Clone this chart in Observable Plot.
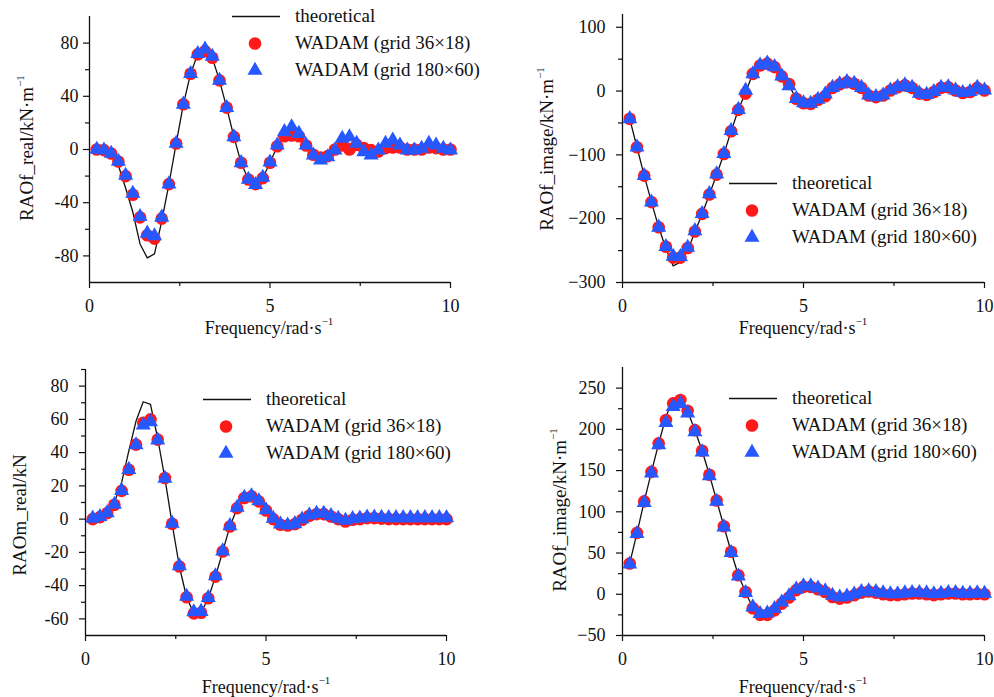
<!DOCTYPE html>
<html>
<head>
<meta charset="utf-8">
<script src="https://cdn.jsdelivr.net/npm/d3@7"></script>
<script src="https://cdn.jsdelivr.net/npm/@observablehq/plot@0.6"></script>
<style>
  body { margin: 0; background: #fff; }
  #fig { position: relative; width: 994px; height: 697px; overflow: hidden; font-family: "Liberation Serif", "Times New Roman", serif; color: #111; }
  .ylab, .xlab { position: absolute; font-size: 18px; white-space: nowrap; }
  .ylab { transform: translate(-50%, -50%) rotate(-90deg); font-size: 19px; }
  .xlab { transform: translate(-50%, -50%); }
  sup { font-size: 11px; position: relative; top: -2px; vertical-align: super; line-height: 0; }
  .legend { position: absolute; font-size: 19px; }
  .legend .row { display: flex; align-items: center; height: 27px; }
  .legend svg { flex: none; }
</style>
</head>
<body>
<div id="fig"></div>
<script>
// Wave frequencies (rad/s) at which the responses are evaluated
const freq = [0.2, 0.4, 0.6, 0.8, 1.0, 1.2, 1.4, 1.6, 1.8, 2.0,
              2.2, 2.4, 2.6, 2.8, 3.0, 3.2, 3.4, 3.6, 3.8, 4.0,
              4.2, 4.4, 4.6, 4.8, 5.0, 5.2, 5.4, 5.6, 5.8, 6.0,
              6.2, 6.4, 6.6, 6.8, 7.0, 7.2, 7.4, 7.6, 7.8, 8.0,
              8.2, 8.4, 8.6, 8.8, 9.0, 9.2, 9.4, 9.6, 9.8, 10.0];

// RAOf real part (kN/m)
const fReal_theory = [0, -0.5, -3, -12, -29, -47, -71, -81.5, -78.5, -54,
                      -26, 4.5, 34, 57, 72, 75, 69, 52, 31.5, 9.5,
                      -10, -22.5, -26, -21.5, -10, 2.5, 11, 12, 10, 2.5,
                      -4.5, -6.5, -5.5, -0.5, 4, 4, 2.5, 0, -1.5, -1,
                      1.5, 3, 2, 0, -0.5, 0.5, 2, 1.5, 0.5, 0];
const fReal_36x18 = [0, -0.5, -3, -9, -20, -34, -51, -64.5, -67, -52,
                     -26, 4.5, 34, 57, 71.5, 74, 69, 52, 31.5, 9.5,
                     -10, -22.5, -26, -21.5, -10, 2.5, 10, 10.5, 10, 3,
                     -4, -6, -5, 0, 3, 0, 3.5, 1, -0.5, -1.5,
                     1, 1.5, 1.5, 0, 0, 0, 1.5, 1, 0, 0];
const fReal_180x60 = [0, -0.5, -3, -9, -19.5, -33, -50.5, -63, -65, -51,
                      -26, 4.5, 34, 57, 72, 75.5, 70, 52, 31.5, 9.5,
                      -10, -22.5, -26.5, -21, -9.5, 3.2, 13.3, 17, 12, 3.2,
                      -4.3, -8, -5.6, -0.5, 8.3, 9.5, 4.5, -1.8, -4.3, -0.5,
                      4.5, 7, 3.2, -0.5, -0.5, 0.8, 4.5, 3.2, 0.8, -0.5];

// RAOf imaginary part (kN/m), upper panel
const fImag_theory = [-43.5, -88, -132.5, -174, -213.5, -247, -274, -268, -250, -221,
                      -192.5, -162, -131, -98.5, -63, -29.5, -2, 27, 40, 43,
                      37.5, 23, 9, -12, -19, -20, -13.5, -7, 5, 10.5,
                      14, 11.5, 5, -7, -9.5, -7, 1, 6, 9, 5,
                      -4, -6, -1.5, 5, 6, 1, -3, -1.5, 5, 1];
const fImag_36x18 = [-43.5, -88, -132.5, -174, -213.5, -244, -261, -261, -246, -220,
                     -192.5, -162, -131, -98.5, -63, -29.5, -4, 27, 40, 43,
                     37.5, 23, 11, -12, -19, -20, -13.5, -8, 5, 10.5,
                     14, 11.5, 5, -7, -9.5, -7, 1, 6, 9, 5,
                     -4, -6, -1.5, 5, 6, 1, -3, -1.5, 5, 1];
const fImag_180x60 = [-43.5, -88, -132.5, -174, -213.5, -244, -259, -259.5, -245, -219,
                      -192, -161, -130, -98, -62, -29, 1, 27, 40.5, 43.5,
                      38, 23.5, 8, -12, -18.5, -19.5, -13, -5, 5.5, 11,
                      14.5, 12, 5.5, -6.5, -9, -6.5, 1.5, 6.5, 9.5, 5.5,
                      -3.5, -5.5, -1, 5.5, 6.5, 1.5, -2.5, -1, 5.5, 1.5];

// RAOm real part (kN)
const mReal_theory = [0, 1.5, 4, 10, 22, 41, 59, 70.6, 69, 48.5,
                      24.5, -2.8, -28.5, -47, -56.7, -56.3, -47.6, -34.6, -19.5, -4.4,
                      6.6, 12.7, 13.7, 10.7, 5.2, 0, -3.4, -3.8, -3, -0.4,
                      2, 3, 3, 1.6, 0, -1, -0.4, 0, 0.8, 1,
                      0.5, 0.5, 0.3, 0.3, 0.2, 0.2, 0.2, 0.1, 0.1, 0];
const mReal_36x18 = [0, 1.2, 3.6, 8.6, 17, 29.7, 44.8, 58, 60, 47.8,
                     24.7, -2.8, -28.5, -47, -56.7, -56.3, -47.6, -34.6, -19.5, -4.4,
                     6.6, 12.7, 13.7, 10.7, 5.2, 0, -3.4, -3.8, -3, -0.4,
                     2, 3, 3, 1.6, 0, -1.4, -0.4, 0, 0.6, 0.6,
                     0.3, 0, 0, 0, 0, 0, 0, 0, 0, 0];
const mReal_180x60 = [0.5, 1.5, 3.8, 8.8, 17.2, 29.8, 44.6, 56.5, 58.5, 47.5,
                      24.5, -2.5, -28.2, -46.5, -55.8, -55.6, -47.2, -34.2, -19.2, -4,
                      7, 13, 14, 11, 5.5, 0.4, -3, -3.6, -2.8, 0,
                      2.4, 3.4, 3.4, 2, 0.4, -0.8, 0.2, 0.6, 1.2, 1.2,
                      1, 0.8, 0.8, 0.8, 0.8, 0.8, 0.8, 0.8, 0.8, 0.8];

// RAOf imaginary part (kN/m), lower panel
const fImag2_theory = [37.4, 74.4, 112.6, 148.4, 183, 215, 238, 234, 222, 199,
                       174, 145, 113.8, 82.5, 51.6, 23, 2.8, -17, -25, -25,
                       -19.5, -11.4, -4, 5, 9, 9, 6, 2.8, -3.3, -5.3,
                       -4, -1.2, 2, 3.3, 2, 0, -1, -1, 0, 1,
                       1, 0, -1, 0, 1, 1, 0, 0, 0.5, 0];
const fImag2_36x18 = [37.4, 74.4, 112.6, 148.4, 183, 211.4, 231.5, 235.5, 222.4, 199,
                      174, 145, 113.8, 82.5, 51.6, 23, 2.8, -17, -25, -25,
                      -19.5, -11.4, -4, 5, 9, 9, 6, 2.8, -3.3, -5.3,
                      -4, -1.2, 2, 3.3, 2, 0, -1, -1, 0, 1,
                      1, 0, -1, 0, 1, 1, 0, 0, 0.5, 0];
const fImag2_180x60 = [36.5, 73.5, 111, 147, 181, 208, 227.5, 231, 219.5, 197,
                       172.5, 143.5, 112.5, 81.5, 50.5, 22, 2, -15.5, -23.5, -23,
                       -17.5, -9.5, -2, 6, 10, 10, 7.5, 4, -1.5, -3.5,
                       -2.5, 0, 3, 4, 3, 1.5, 0.5, 0.5, 1.5, 2,
                       2, 1.5, 0.5, 1, 2, 2, 1, 1, 1.5, 1];

// Axis ranges and ticks for each panel
const xDomain = [0, 10];
const xTicks = [0, 5, 10];
const xMinor = [2.5, 7.5];

const p1Domain = [-100, 100], p1Ticks = [-80, -40, 0, 40, 80], p1Minor = [-60, -20, 20, 60];
const p2Domain = [-300, 120], p2Ticks = [-300, -200, -100, 0, 100], p2Minor = [-250, -150, -50, 50];
const p3Domain = [-70, 90], p3Ticks = [-60, -40, -20, 0, 20, 40, 60, 80], p3Minor = [-50, -30, -10, 10, 30, 50, 70, 90];
const p4Domain = [-50, 275], p4Ticks = [-50, 0, 50, 100, 150, 200, 250], p4Minor = [-25, 25, 75, 125, 175, 225];

const RED = "#ff1a1a";
const BLUE = "#2657ff";
const SERIES = ["theoretical", "WADAM (grid 36×18)", "WADAM (grid 180×60)"];

const rows = (vals) => freq.map((f, i) => ({f, v: vals[i]}));

function panel(o) {
  const plot = Plot.plot({
    width: o.width, height: o.height,
    marginLeft: o.ml, marginRight: o.mr, marginTop: o.mt, marginBottom: o.mb,
    style: {fontFamily: "'Liberation Serif', 'Times New Roman', serif", fontSize: "18px", color: "#111", background: "transparent", overflow: "visible"},
    x: {domain: xDomain},
    y: {domain: o.yDomain},
    marks: [
      Plot.axisX({ticks: xTicks, tickSize: 6, tickPadding: o.xpad, label: null, fontSize: 18, strokeWidth: 1.2}),
      Plot.axisX({ticks: xMinor, tickSize: 4, text: null, label: null, strokeWidth: 1.2}),
      Plot.axisY({ticks: o.yTicks, tickSize: 6, tickPadding: o.ypad, label: null, fontSize: 18, strokeWidth: 1.2,
                  tickFormat: (d) => (d < 0 ? o.minus + Math.abs(d) : String(d))}),
      Plot.axisY({ticks: o.yMinor, tickSize: 4, text: null, label: null, strokeWidth: 1.2}),
      Plot.ruleX([xDomain[0]], {stroke: "#111", strokeWidth: 1.3}),
      Plot.ruleY([o.yDomain[0]], {stroke: "#111", strokeWidth: 1.3}),
      Plot.line(rows(o.theory), {x: "f", y: "v", stroke: "#111", strokeWidth: 1.3}),
      Plot.dot(rows(o.coarse), {x: "f", y: "v", fill: RED, r: 6.3, symbol: "circle"}),
      Plot.dot(rows(o.fine), {x: "f", y: "v", fill: BLUE, r: 5.6, symbol: "triangle"})
    ]
  });
  plot.style.position = "absolute";
  plot.style.left = o.left + "px";
  plot.style.top = o.top + "px";
  return plot;
}

const fig = document.getElementById("fig");

fig.append(panel({left: 0, top: 0, width: 497, height: 348, ml: 89, mr: 47, mt: 16, mb: 66, xpad: 11, ypad: 5, minus: "-",
  yDomain: p1Domain, yTicks: p1Ticks, yMinor: p1Minor, theory: fReal_theory, coarse: fReal_36x18, fine: fReal_180x60}));
fig.append(panel({left: 497, top: 0, width: 497, height: 348, ml: 125, mr: 10, mt: 14, mb: 66, xpad: 11, ypad: 11, minus: "\u2212",
  yDomain: p2Domain, yTicks: p2Ticks, yMinor: p2Minor, theory: fImag_theory, coarse: fImag_36x18, fine: fImag_180x60}));
fig.append(panel({left: 0, top: 348, width: 497, height: 349, ml: 85, mr: 51, mt: 21, mb: 62, xpad: 11, ypad: 11, minus: "-",
  yDomain: p3Domain, yTicks: p3Ticks, yMinor: p3Minor, theory: mReal_theory, coarse: mReal_36x18, fine: mReal_180x60}));
fig.append(panel({left: 497, top: 348, width: 497, height: 349, ml: 125, mr: 10, mt: 19, mb: 62, xpad: 11, ypad: 11, minus: "\u2212",
  yDomain: p4Domain, yTicks: p4Ticks, yMinor: p4Minor, theory: fImag2_theory, coarse: fImag2_36x18, fine: fImag2_180x60}));

// Axis titles
function label(cls, html, x, y) {
  const d = document.createElement("div");
  d.className = cls;
  d.innerHTML = html;
  d.style.left = x + "px";
  d.style.top = y + "px";
  fig.append(d);
}
const unitF = "kN·m<sup>−1</sup>";
const unitFreq = "Frequency/rad·s<sup>−1</sup>";
label("ylab", "RAOf_real/" + unitF, 27, 148);
label("ylab", "RAOf_image/" + unitF, 547, 149);
label("ylab", "RAOm_real/kN", 20, 515);
label("ylab", "RAOf_image/" + unitF, 560, 510);
label("xlab", unitFreq, 269, 328);
label("xlab", unitFreq, 803, 328);
label("xlab", unitFreq, 266, 687);
label("xlab", unitFreq, 803, 687);

// Legends
function legend(x, y) {
  const d = document.createElement("div");
  d.className = "legend";
  d.style.left = x + "px";
  d.style.top = y + "px";
  const swatches = [
    `<line x1="0" x2="48" y1="13.5" y2="13.5" stroke="#111" stroke-width="1.3"/>`,
    `<circle cx="23" cy="13.5" r="6.3" fill="${RED}"/>`,
    `<path d="${d3.symbol(d3.symbolTriangle, Math.PI * 5.6 * 5.6)()}" transform="translate(23,13.5)" fill="${BLUE}"/>`
  ];
  d.innerHTML = SERIES.map((s, i) =>
    `<div class="row"><svg width="63" height="27">${swatches[i]}</svg><span>${s}</span></div>`).join("");
  fig.append(d);
}
legend(232, 2.5);
legend(729, 169.5);
legend(203, 385.5);
legend(729, 384.5);
</script>
</body>
</html>
